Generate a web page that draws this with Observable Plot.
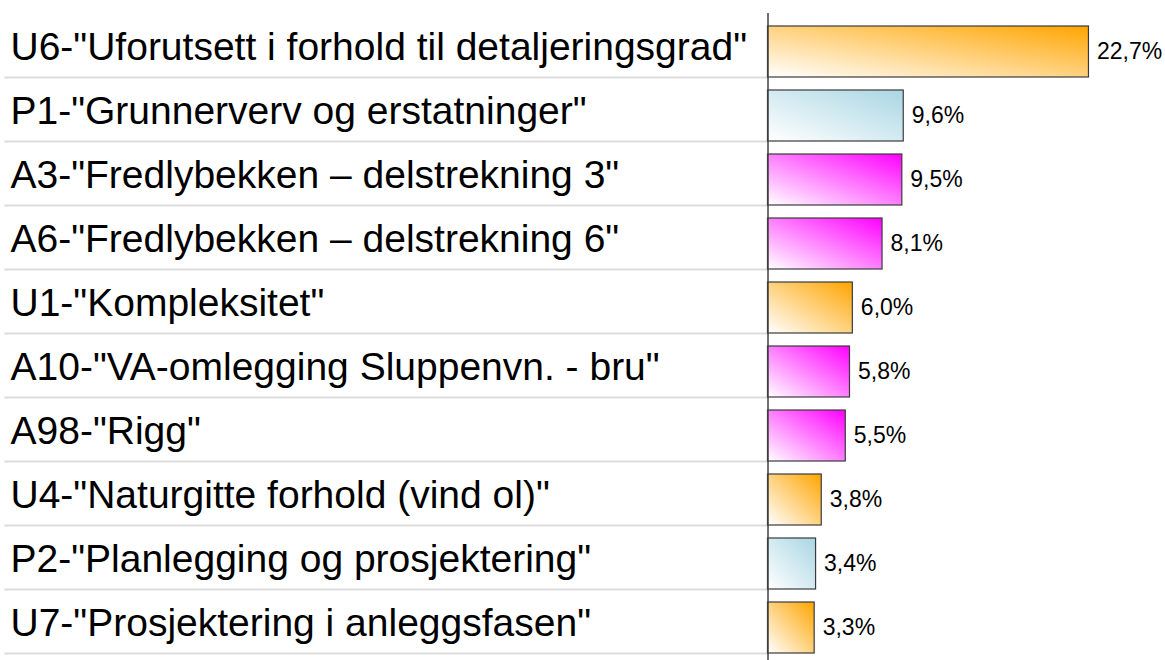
<!DOCTYPE html>
<html>
<head>
<meta charset="utf-8">
<script src="https://cdn.jsdelivr.net/npm/d3@7"></script>
<script src="https://cdn.jsdelivr.net/npm/@observablehq/plot@0.6"></script>
<style>
  html, body { margin: 0; padding: 0; background: #fff; }
  #chart svg { display: block; }
</style>
</head>
<body>
<div id="chart"></div>
<script>
const labels = [
  'U6-"Uforutsett i forhold til detaljeringsgrad"',
  'P1-"Grunnerverv og erstatninger"',
  'A3-"Fredlybekken – delstrekning 3"',
  'A6-"Fredlybekken – delstrekning 6"',
  'U1-"Kompleksitet"',
  'A10-"VA-omlegging Sluppenvn. - bru"',
  'A98-"Rigg"',
  'U4-"Naturgitte forhold (vind ol)"',
  'P2-"Planlegging og prosjektering"',
  'U7-"Prosjektering i anleggsfasen"'
];
const values = [22.7, 9.6, 9.5, 8.1, 6.0, 5.8, 5.5, 3.8, 3.4, 3.3];
const groups = ["U", "P", "A", "A", "U", "A", "A", "U", "P", "U"];
const groupDomain = ["U", "P", "A"];
const groupFills = ["url(#gradU)", "url(#gradP)", "url(#gradA)"];

const data = labels.map((label, i) => ({label, value: values[i], group: groups[i]}));
const fmt = v => v.toFixed(1).replace(".", ",") + "%";

const W = 1165, H = 660;
const mL = 767.5, mT = 13, mB = 7, mR = 1.6;

const chart = Plot.plot({
  width: W,
  height: H,
  marginLeft: mL,
  marginRight: mR,
  marginTop: mT,
  marginBottom: mB,
  style: {fontFamily: "'Liberation Sans', Arial, sans-serif", background: "#fff", color: "#000"},
  x: {domain: [0, 28], axis: null},
  y: {domain: labels, padding: 0, axis: null},
  color: {type: "ordinal", domain: groupDomain, range: groupFills},
  marks: [
    // row separators (axis ticks shifted to band bottom)
    Plot.axisY(labels, {
      anchor: "left",
      tickSize: 763,
      tickFormat: () => "",
      label: null,
      stroke: "#dcdcdc",
      strokeWidth: 2,
      dy: 32
    }),
    // row labels
    Plot.text(data, {
      y: "label",
      text: "label",
      frameAnchor: "left",
      textAnchor: "start",
      dx: -(mL - 10),
      dy: 2.5,
      fontSize: 39,
      fill: "#000"
    }),
    Plot.barX(data, {
      x: "value",
      y: "label",
      fill: "group",
      stroke: "#3a3a3a",
      strokeWidth: 1.2,
      insetTop: 13,
      insetBottom: 0
    }),
    Plot.text(data, {
      x: "value",
      y: "label",
      text: d => fmt(d.value),
      textAnchor: "start",
      dx: 8,
      dy: 6.5,
      fontSize: 23,
      fill: "#000"
    }),
    Plot.ruleX([0], {stroke: "#404040", strokeWidth: 1.5, insetBottom: -7})
  ]
});

// gradient definitions
const defs = `
<defs>
  <linearGradient id="gradU" x1="0" y1="1" x2="1" y2="0">
    <stop offset="0" stop-color="#ffffff"/>
    <stop offset="1" stop-color="#ffa500"/>
  </linearGradient>
  <linearGradient id="gradP" x1="0" y1="1" x2="1" y2="0">
    <stop offset="0" stop-color="#ffffff"/>
    <stop offset="1" stop-color="#a9d6e3"/>
  </linearGradient>
  <linearGradient id="gradA" x1="0" y1="1" x2="1" y2="0">
    <stop offset="0" stop-color="#ffffff"/>
    <stop offset="1" stop-color="#ff00ff"/>
  </linearGradient>
</defs>`;
chart.insertAdjacentHTML("afterbegin", defs);

document.getElementById("chart").appendChild(chart);
</script>
</body>
</html>
